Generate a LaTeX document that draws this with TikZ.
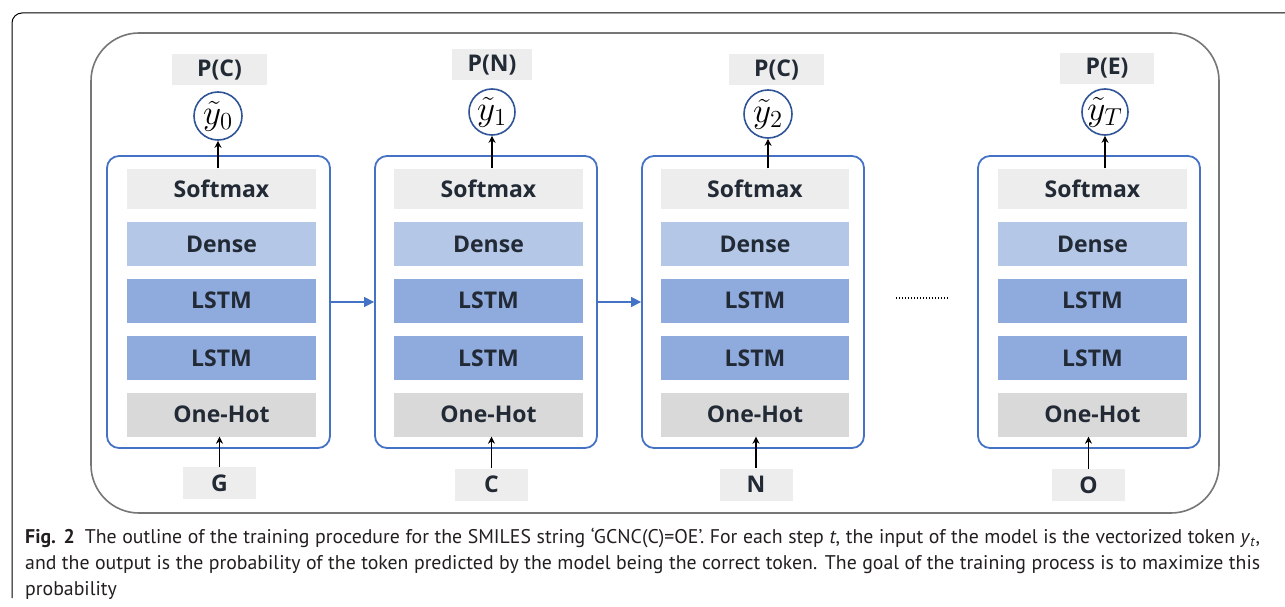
\documentclass[tikz,border=0pt]{standalone}
\usepackage{graphicx}
\usepackage{fontspec}
\setmainfont{PT Sans}
\newfontfamily\labfont{Open Sans}
\usetikzlibrary{arrows.meta}
\definecolor{txtdark}{RGB}{34,42,53}
\definecolor{capgray}{RGB}{35,31,32}
\definecolor{softgray}{RGB}{237,237,237}
\definecolor{hotgray}{RGB}{217,217,217}
\definecolor{densebl}{RGB}{180,199,231}
\definecolor{lstmbl}{RGB}{143,170,220}
\definecolor{blockbl}{RGB}{68,114,196}
\definecolor{circbl}{RGB}{47,85,151}
\definecolor{framegray}{RGB}{118,118,118}
\begin{document}
\begin{tikzpicture}[x=1pt,y=-1pt,
  layer/.style={inner sep=0pt, text=txtdark, font=\labfont\bfseries\fontsize{23}{26}\selectfont},
  blockbox/.style={draw=blockbl, line width=1.8pt, rounded corners=12pt, inner sep=0pt, minimum height=292pt},
  outcirc/.style={draw=circbl, line width=1.6pt, circle, inner sep=0pt, font=\fontsize{20.74}{24}\selectfont},
  uparrow/.style={draw=black, line width=1.3pt, -{Stealth[length=7pt,width=7pt]}},
  harrow/.style={draw=blockbl, line width=1.3pt, -{Triangle[length=10pt,width=10pt]}},
  capline/.style={anchor=base west, inner sep=0pt, text=capgray, font=\fontsize{19.8}{26}\selectfont}
]
\useasboundingbox (0,0) rectangle (1285,607);
% outer frame
\draw[black, line width=1pt, rounded corners=10pt] (12,598) -- (12,13) -- (1285,13);
% inner frame
\node[draw=framegray, line width=1.6pt, rounded corners=48pt, minimum width=1128pt, minimum height=480pt, inner sep=0pt] (inner) at (655,273) {};
% blocks
\foreach \i/\bl/\br/\ll/\lr/\pcx/\pw/\pcy/\ccx/\ccy/\cr/\ptxt/\sub/\icx/\icy/\itxt in {
  1/107/330/127/316/219.5/95/69.5/218/116/24/P(C)/0/219.5/483/G,
  2/375/597/394/583/492/80/65/492/112/23/P(N)/1/491.5/484.5/C,
  3/642/864/661/849/776.5/95/69.5/768/114/24/P(C)/2/756/484.5/N,
  4/978/1200/998/1187/1107/94/68.5/1105/112/23/P(E)/T/1088.5/485/O}{
  \pgfmathsetmacro{\bw}{\br-\bl}
  \pgfmathsetmacro{\bcx}{(\br+\bl)/2}
  \pgfmathsetmacro{\lw}{\lr-\ll}
  \pgfmathsetmacro{\lcx}{(\lr+\ll)/2}
  \pgfmathsetmacro{\crr}{2*\cr}
  \node[blockbox, minimum width=\bw pt] (blk\i) at (\bcx,302) {};
  \node[layer, fill=softgray, minimum width=\lw pt, minimum height=40pt] (sm\i) at (\lcx,188.5) {Softmax};
  \node[layer, fill=densebl, minimum width=\lw pt, minimum height=44pt] (de\i) at (\lcx,244) {Dense};
  \node[layer, fill=lstmbl, minimum width=\lw pt, minimum height=44.5pt] (la\i) at (\lcx,300.75) {LSTM};
  \node[layer, fill=lstmbl, minimum width=\lw pt, minimum height=44pt] (lb\i) at (\lcx,358) {LSTM};
  \node[layer, fill=hotgray, minimum width=\lw pt, minimum height=43.5pt] (oh\i) at (\lcx,414.75) {One-Hot};
  \node[layer, fill=softgray, minimum width=\pw pt, minimum height=31pt] (p\i) at (\pcx,\pcy) {\ptxt};
  \node[outcirc, minimum size=\crr pt] (c\i) at (\ccx,\ccy) {\scalebox{1.7}{$\tilde{y}_{\sub}$}};
  \node[layer, fill=softgray, minimum width=73pt, minimum height=32pt] (in\i) at (\icx,\icy) {\itxt};
  \draw[uparrow] (c\i.south |- sm\i.north) -- (c\i.south);
  \draw[uparrow] (in\i.north) -- (in\i.north |- oh\i.south);
}
\draw[harrow] (blk1.east) -- (blk2.west);
\draw[harrow] (blk2.east) -- (blk3.west);
\coordinate (dotA) at (896,298);
\coordinate (dotB) at (948,298);
\draw[black, line width=1.5pt, dash pattern=on 1.3pt off 1.7pt] (dotA) -- (dotB);
% caption
\node[capline] (cap1) at (25,543) {\makebox[1235pt][s]{\textbf{Fig. 2}\enspace The outline of the training procedure for the SMILES string ‘GCNC(C)=OE’. For each step \textit{t}, the input of the model is the vectorized token \textit{y}\textsubscript{\textit{t}},}};
\node[capline] (cap2) at (25,569) {\makebox[1235pt][s]{and the output is the probability of the token predicted by the model being the correct token. The goal of the training process is to maximize this}};
\node[capline] (cap3) at (25,595) {probability};
\end{tikzpicture}
\end{document}
